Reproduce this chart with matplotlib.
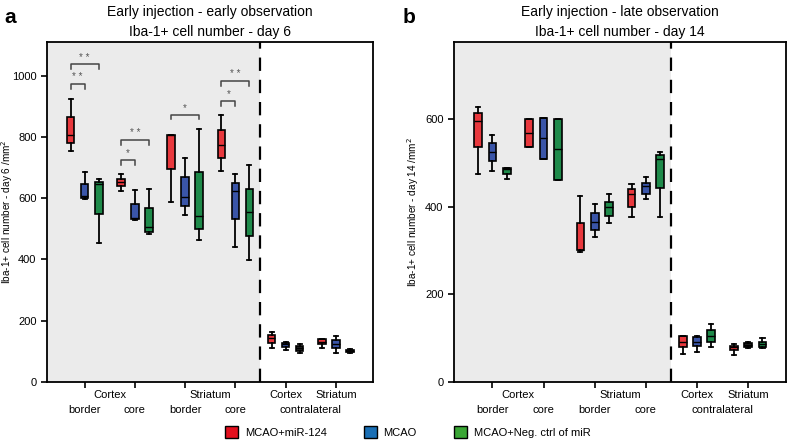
import numpy as np
from matplotlib import pyplot as plt
from matplotlib.patches import Patch
from matplotlib import transforms

plt.rcParams['font.family'] = ['Liberation Sans', 'DejaVu Sans']

# box stats per group: [whisker low, q1, median, q3, whisker high]
# order of groups: cortex border, cortex core, striatum border, striatum core,
# contralateral cortex, contralateral striatum
day6_mir124 = [[755, 779, 806, 866, 925], [624, 640, 653, 664, 679],
               [588, 696, 806, 806, 806], [688, 730, 773, 822, 871],
               [112, 126, 145, 153, 164], [112, 124, 132, 139, 142]]
day6_mcao = [[596, 600, 607, 648, 687], [528, 531, 535, 580, 626],
             [545, 575, 605, 669, 732], [441, 531, 623, 650, 679],
             [104, 115, 123, 128, 132], [94, 112, 124, 137, 150]]
day6_neg = [[455, 548, 645, 652, 662], [482, 490, 505, 567, 631],
            [463, 501, 543, 684, 826], [398, 476, 556, 631, 708],
            [96, 102, 110, 117, 124], [95, 98, 101, 104, 107]]

day14_mir124 = [[475, 536, 597, 614, 629], [538, 538, 568, 600, 600],
                [298, 301, 301, 364, 424], [376, 401, 430, 440, 452],
                [64, 81, 92, 104, 105], [62, 72, 80, 83, 87]]
day14_mcao = [[482, 504, 526, 546, 565], [509, 509, 557, 603, 603],
              [332, 347, 366, 387, 407], [418, 430, 447, 455, 468],
              [68, 82, 92, 102, 105], [77, 81, 85, 90, 92]]
day14_neg = [[463, 475, 486, 490, 490], [462, 462, 532, 602, 602],
             [364, 380, 399, 412, 429], [376, 443, 509, 518, 526],
             [79, 91, 106, 119, 133], [77, 79, 86, 92, 101]]

# significance brackets: (group index, first box, second box, height, label)
day6_sig = [(0, 0, 1, 972, '* *'), (0, 0, 2, 1037, '* *'),
            (1, 0, 1, 724, '*'), (1, 0, 2, 790, '* *'),
            (2, 0, 2, 873, '*'),
            (3, 0, 1, 917, '*'), (3, 0, 2, 982, '* *')]

series_names = ['MCAO+miR-124', 'MCAO', 'MCAO+Neg. ctrl of miR']
box_colors = ['#e8383d', '#3a55a8', '#1e8a4a']
legend_colors = ['#e3101e', '#1a6fb5', '#3aa635']
small_colors_a = {(4, 2): '#222222', (5, 2): '#222222'}
small_colors_b = {(5, 1): '#222222'}
offsets = [-0.28, 0.0, 0.28]


def draw_panel(ax, series, ymax, yticks, ylabel, title, dark):
    ax.set_xlim(0.25, 6.74)
    ax.set_ylim(0, ymax)
    ax.axvspan(0.25, 4.5, color='#ebebeb', zorder=0, lw=0)
    for s, data in enumerate(series):
        stats = []
        pos = []
        for g, d in enumerate(data):
            stats.append(dict(whislo=d[0], q1=d[1], med=d[2], q3=d[3], whishi=d[4]))
            pos.append(g + 1 + offsets[s])
        res = ax.bxp(stats, positions=pos, widths=0.15, patch_artist=True,
                     showfliers=False, capwidths=0.08,
                     boxprops=dict(edgecolor='black', linewidth=1.2),
                     medianprops=dict(color='black', linewidth=1.0),
                     whiskerprops=dict(color='black', linewidth=1.3),
                     capprops=dict(color='black', linewidth=1.3))
        for g, b in enumerate(res['boxes']):
            b.set_facecolor(dark.get((g, s), box_colors[s]))
    ax.axvline(4.5, color='black', lw=1.6, dashes=(6, 4))
    ax.set_yticks(yticks)
    ax.set_xticks([1, 2, 3, 4, 5, 6])
    ax.set_xticklabels([])
    ax.tick_params(axis='both', direction='out', length=4, width=1.2,
                   labelsize=8, color='black')
    for sp in ax.spines.values():
        sp.set_linewidth(1.3)
    ax.set_ylabel(ylabel, fontsize=7.2)
    ax.yaxis.set_label_coords(-0.098, 0.5)
    ax.set_title(title, fontsize=10, linespacing=1.6, pad=4)
    tr = transforms.blended_transform_factory(ax.transData, ax.transAxes)
    row1 = [(1.5, 'Cortex'), (3.5, 'Striatum'), (5, 'Cortex'), (6, 'Striatum')]
    row2 = [(1, 'border'), (2, 'core'), (3, 'border'), (4, 'core'), (5.5, 'contralateral')]
    for x, t in row1:
        ax.text(x, -0.024, t, transform=tr, ha='center', va='top', fontsize=8)
    for x, t in row2:
        ax.text(x, -0.068, t, transform=tr, ha='center', va='top', fontsize=8)


fig = plt.figure(figsize=(7.87, 4.42), dpi=100)
ax1 = fig.add_axes([47 / 787, 60 / 442, 326 / 787, 340 / 442])
ax2 = fig.add_axes([454 / 787, 60 / 442, 332 / 787, 340 / 442])

draw_panel(ax1, [day6_mir124, day6_mcao, day6_neg], 1110, [0, 200, 400, 600, 800, 1000],
           'Iba-1+ cell number - day 6 /mm$^2$',
           'Early injection - early observation\nIba-1+ cell number - day 6', small_colors_a)
draw_panel(ax2, [day14_mir124, day14_mcao, day14_neg], 777, [0, 200, 400, 600],
           'Iba-1+ cell number - day 14 /mm$^2$',
           'Early injection - late observation\nIba-1+ cell number - day 14', small_colors_b)

for g, a, b, h, lab in day6_sig:
    x0 = g + 1 + offsets[a]
    x1 = g + 1 + offsets[b]
    ax1.plot([x0, x0, x1, x1], [h - 15, h, h, h - 15], color='#444444', lw=1.1)
    ax1.text((x0 + x1) / 2, h + 6, lab, ha='center', va='bottom', fontsize=7, color='#555555')

fig.text(0.006, 0.96, 'a', fontsize=15, fontweight='bold', va='center')
fig.text(0.512, 0.96, 'b', fontsize=15, fontweight='bold', va='center')

handles = [Patch(facecolor=c, edgecolor='black', linewidth=1.0) for c in legend_colors]
fig.legend(handles, series_names, loc='center', bbox_to_anchor=(0.518, 0.023), ncol=3,
           frameon=False, fontsize=8, handlelength=1.2, handleheight=1.2,
           columnspacing=3.3, handletextpad=0.6)

plt.savefig('out.png', dpi=100)
